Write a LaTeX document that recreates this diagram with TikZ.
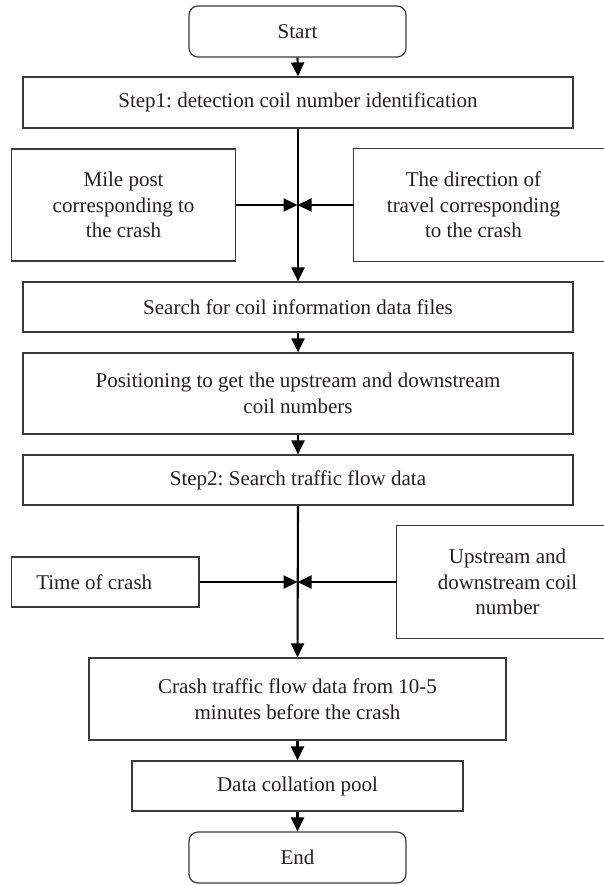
\documentclass[tikz,border=0pt]{standalone}
\usepackage{fontspec}
\setmainfont{Liberation Serif}
\usetikzlibrary{arrows.meta,calc}
\definecolor{boxline}{HTML}{3A3A3A}
\definecolor{txt}{HTML}{231F20}
\frenchspacing
\begin{document}
\begin{tikzpicture}[x=1pt,y=-1pt,
  box/.style={draw=boxline,line width=1.2pt,inner sep=0pt,align=center,text=txt,
    font=\fontsize{21}{25.5}\selectfont},
  open/.style={inner sep=0pt,align=center,text=txt,font=\fontsize{21}{25.5}\selectfont},
  term/.style={box,rounded corners=9pt},
  conn/.style={line width=2.1pt,-{Triangle[width=13pt,length=14pt]}},
  side/.style={draw=boxline,line width=1.2pt}]
\useasboundingbox (0,0) rectangle (604,885);
\node[term,minimum width=217pt,minimum height=51pt] (start) at (297.5,31.5) {Start};
\node[box,minimum width=550pt,minimum height=51pt] (s1) at (298,102.5) {Step1: detection coil number identification};
\node[box,minimum width=224pt,minimum height=112pt] (mile) at (123.6,205) {Mile post\\corresponding to\\the crash};
\node[open,minimum width=239pt,minimum height=112pt] (dir) at (473.5,205) {The direction of\\travel corresponding\\to the crash};
\draw[side] ($(dir.north west)+(250,0)$) -- (dir.north west) -- (dir.south west) -- ($(dir.south west)+(250,0)$);
\node[box,minimum width=550pt,minimum height=50pt] (search) at (298,307) {Search for coil information data files};
\node[box,minimum width=550pt,minimum height=81pt] (pos) at (298,393.5) {Positioning to get the upstream and downstream\\coil numbers};
\node[box,minimum width=550pt,minimum height=50pt] (s2) at (298,480) {Step2: Search traffic flow data};
\node[box,minimum width=187.5pt,minimum height=50pt] (time) at (105.25,582) {Time of crash\hspace*{22pt}};
\node[open,minimum width=221pt,minimum height=112pt] (up) at (507.5,582) {Upstream and\\downstream coil\\number};
\draw[side] ($(up.north west)+(207,0)$) -- (up.north west) -- (up.south west) -- ($(up.south west)+(207,0)$);
\node[box,minimum width=417pt,minimum height=82pt] (crash) at (297.5,699) {Crash traffic flow data from 10-5\\minutes before the crash};
\node[box,minimum width=331pt,minimum height=50pt] (data) at (297.5,786) {Data collation pool};
\node[term,minimum width=217pt,minimum height=51pt] (end) at (297.5,857.5) {End};
\coordinate (j1) at (297.5,205);
\coordinate (j2) at (297.5,582);
\draw[conn] (start.south) -- (s1.north);
\draw[conn] (s1.south) -- (search.north);
\draw[conn] (mile.east) -- (j1);
\draw[conn] (dir.west) -- (j1);
\draw[conn] (search.south) -- (pos.north);
\draw[conn] (pos.south) -- (s2.north);
\draw[conn] (s2.south) -- (crash.north);
\draw[conn] (time.east) -- (j2);
\draw[conn] (up.west) -- (j2);
\draw[conn] (crash.south) -- (data.north);
\draw[conn] (data.south) -- (end.north);
\end{tikzpicture}
\end{document}
